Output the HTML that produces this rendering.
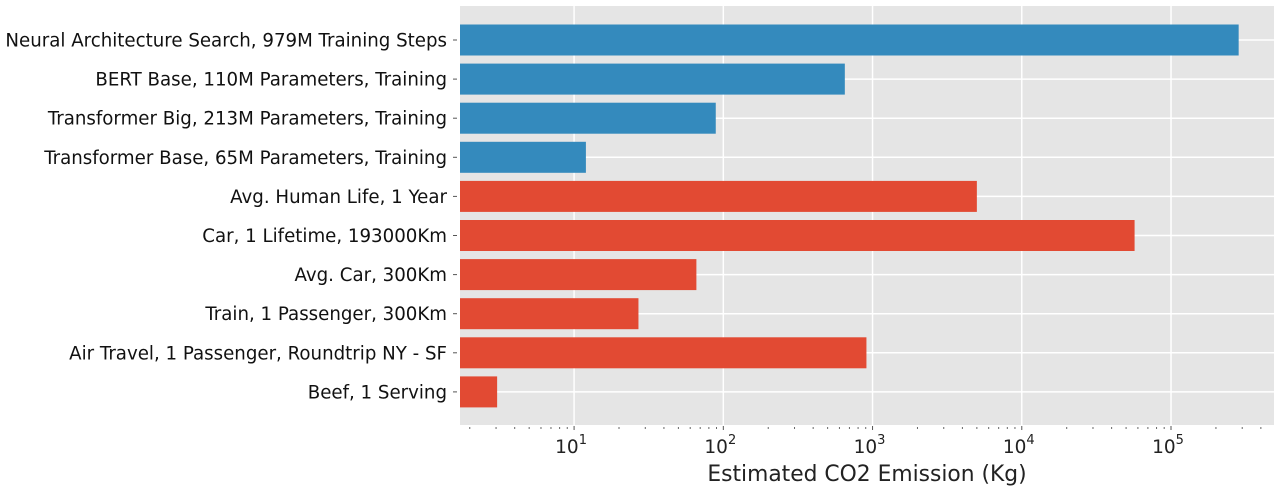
<!DOCTYPE html>
<html><head><meta charset="utf-8"><style>
body{margin:0;background:#fff;}
svg{display:block;font-family:"DejaVu Sans","Liberation Sans",sans-serif;}
</style></head><body>
<svg id="chart" width="1280" height="491">
<rect x="460" y="6" width="814" height="419" fill="#e5e5e5"/>
<g id="grid"></g><g id="bars"></g><g id="ylabels"></g><g id="xaxis"></g>
<text x="867" y="481" font-size="21.8" text-anchor="middle" fill="#222">Estimated CO2 Emission (Kg)</text>
</svg>
<script>
const categories=["Neural Architecture Search, 979M Training Steps","BERT Base, 110M Parameters, Training","Transformer Big, 213M Parameters, Training","Transformer Base, 65M Parameters, Training","Avg. Human Life, 1 Year","Car, 1 Lifetime, 193000Km","Avg. Car, 300Km","Train, 1 Passenger, 300Km","Air Travel, 1 Passenger, Roundtrip NY - SF","Beef, 1 Serving"];
const values=[284000,652,89,12,5000,57000,66,27,910,3.05];
const groups=["ml","ml","ml","ml","ref","ref","ref","ref","ref","ref"];
const tickExps=[1,2,3,4,5];
const NS="http://www.w3.org/2000/svg";
const L=460,R=1274,T=6,B=425;
const logMin=Math.log10(1.72),logMax=5+(1274-1171)/149.25;
function x(v){return L+(Math.log10(v)-logMin)/(logMax-logMin)*(R-L);}
function y(i){return 40+i*39.1;}
function mk(tag,attrs,parent){const e=document.createElementNS(NS,tag);for(const k in attrs)e.setAttribute(k,attrs[k]);parent.appendChild(e);return e;}
const grid=document.getElementById('grid'),bars=document.getElementById('bars'),yl=document.getElementById('ylabels'),xa=document.getElementById('xaxis');
tickExps.forEach(p=>{const xx=x(Math.pow(10,p));
 const g=mk('line',{x1:xx,x2:xx,y1:T,y2:B,stroke:'#fff','stroke-width':1.5},grid);
 
 
 const t=mk('line',{x1:xx,x2:xx,y1:B+1,y2:B+5,stroke:'#555','stroke-width':1},xa);
 
 
 const tx=mk('text',{x:xx-3,y:453,'font-size':18.5,'text-anchor':'middle',fill:'#222'},xa);
 
 
 tx.textContent='10';
 const sp=mk('tspan',{dy:-9,'font-size':13},tx);sp.textContent=String(p);
});
for(let p=0;p<=5;p++)for(let m=2;m<=9;m++){const v=m*Math.pow(10,p);const xx=x(v);if(xx<L||xx>R)continue;
 const t=mk('line',{x1:xx,x2:xx,y1:B+2,y2:B+4,stroke:'#666','stroke-width':1},xa);
 
 }
categories.forEach((c,i)=>{const yy=y(i);
 const g=mk('line',{x1:L,x2:R,y1:yy,y2:yy,stroke:'#fff','stroke-width':1.5},grid);
 
 
 const b=mk('rect',{x:L,y:yy-15.5,width:x(values[i])-L,height:31,fill:groups[i]==='ml'?'#348abd':'#e24a33'},bars);
 
 
 const t=mk('line',{x1:L-7,x2:L-3,y1:yy,y2:yy,stroke:'#555','stroke-width':1},yl);
 
 
 const tx=mk('text',{x:L-13,y:yy+6.5,'font-size':18.2,'text-anchor':'end',fill:'#111'},yl);
 
 
 tx.textContent=c;
});
</script>
</body></html>
